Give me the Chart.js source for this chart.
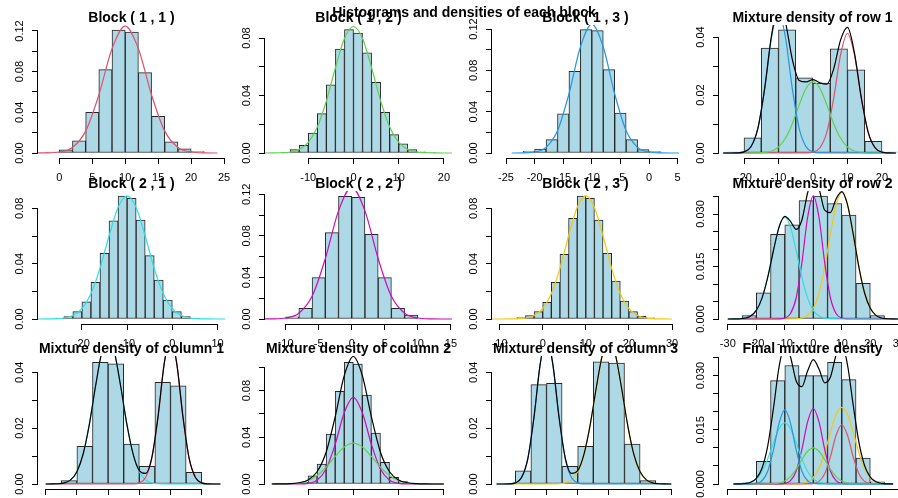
<!DOCTYPE html>
<html>
<head>
<meta charset="utf-8">
<script src="https://cdn.jsdelivr.net/npm/chart.js@4.4.1/dist/chart.umd.min.js"></script>
<style>
  html, body { margin: 0; padding: 0; background: #fff; }
  #stage { position: relative; width: 898px; height: 498px; overflow: hidden; background: #fff; }
  #stage canvas { position: absolute; }
  .ttl { position: absolute; font: bold 14px "Liberation Sans", Arial, sans-serif; color: #000;
         white-space: nowrap; transform: translate(-50%, -50%); line-height: 14px; }
</style>
</head>
<body>
<div id="stage"></div>
<script>
// colours of the R palette
const RED = '#DF536B', GREEN = '#61D04F', BLUE = '#2297E6', CYAN = '#28E2E5',
      MAGENTA = '#CD0BBC', GOLD = '#F5C710', BLACK = '#000000';

// ---- histogram bins (mid points) and densities ----
const h11x = [-1, 1, 3, 5, 7, 9, 11, 13, 15, 17, 19, 21];
const h11y = [0.001, 0.003, 0.012, 0.040, 0.082, 0.121, 0.119, 0.079, 0.036, 0.011, 0.004, 0.0013];
const h12x = [-15, -13, -11, -9, -7, -5, -3, -1, 1, 3, 5, 7, 9, 11, 13, 15, 17];
const h12y = [0.0005, 0.0023, 0.0053, 0.0139, 0.0274, 0.0475, 0.0723, 0.0858, 0.0835, 0.0696, 0.0492, 0.0283, 0.0128, 0.0063, 0.0023, 0.0009, 0.0005];
const h13x = [-21, -19, -17, -15, -13, -11, -9, -7, -5, -3, -1, 1];
const h13y = [0.0016, 0.0039, 0.0129, 0.0378, 0.079, 0.1194, 0.1184, 0.0807, 0.0387, 0.0129, 0.0032, 0.0013];
const h14x = [-22.5, -17.5, -12.5, -7.5, -2.5, 2.5, 7.5, 12.5, 17.5, 22.5];
const h14y = [0.0003, 0.0052, 0.0362, 0.0425, 0.0259, 0.0241, 0.0359, 0.0287, 0.0040, 0.0003];
const h21x = [-25, -23, -21, -19, -17, -15, -13, -11, -9, -7, -5, -3, -1, 1, 3, 5];
const h21y = [0.0005, 0.0017, 0.0053, 0.0125, 0.0265, 0.0475, 0.0709, 0.0889, 0.0873, 0.0716, 0.0458, 0.0282, 0.0137, 0.0053, 0.0017, 0.0005];
const h22x = [-9, -7, -5, -3, -1, 1, 3, 5, 7, 9];
const h22y = [0.0022, 0.0103, 0.0398, 0.0831, 0.118, 0.117, 0.0815, 0.0398, 0.0103, 0.0038];
const h23x = [-5, -3, -1, 1, 3, 5, 7, 9, 11, 13, 15, 17, 19, 21, 23, 25];
const h23y = [0.001, 0.0024, 0.0053, 0.012, 0.0265, 0.0468, 0.0728, 0.0889, 0.0873, 0.0716, 0.0475, 0.0275, 0.013, 0.0053, 0.002, 0.0008];
const h24x = [-22.5, -17.5, -12.5, -7.5, -2.5, 2.5, 7.5, 12.5, 17.5, 22.5];
const h24y = [0.001, 0.0075, 0.0242, 0.0269, 0.0338, 0.0351, 0.0330, 0.0297, 0.0102, 0.001];
const h31x = [-22.5, -17.5, -12.5, -7.5, -2.5, 2.5, 7.5, 12.5, 17.5];
const h31y = [0.0012, 0.0135, 0.0436, 0.0430, 0.0143, 0.0063, 0.0364, 0.0352, 0.0042];
const h32x = [-11, -9, -7, -5, -3, -1, 1, 3, 5, 7, 9, 11];
const h32y = [0.0014, 0.0071, 0.0171, 0.0428, 0.0794, 0.1043, 0.1028, 0.0763, 0.0437, 0.0186, 0.0057, 0.002];
const h33x = [-17.5, -12.5, -7.5, -2.5, 2.5, 7.5, 12.5, 17.5, 22.5];
const h33y = [0.0047, 0.0356, 0.0361, 0.0063, 0.0135, 0.0438, 0.0433, 0.0143, 0.0012];
const h34x = [-22.5, -17.5, -12.5, -7.5, -2.5, 2.5, 7.5, 12.5, 17.5, 22.5];
const h34y = [0.0003, 0.0063, 0.0286, 0.0328, 0.0300, 0.0300, 0.0337, 0.0289, 0.0072, 0.0006];

// ---- density curves, read at the x positions of each panel ----
const d11x = [-4, -2, 0, 2, 4, 6, 8, 10, 12, 14, 16, 18, 20, 22, 24];
const d11 = [0.00001, 0.00011, 0.00095, 0.00547, 0.0215, 0.0571, 0.1026, 0.1247, 0.1026, 0.0571, 0.0215, 0.00547, 0.00095, 0.00011, 0.00001];

const d12x = [-20, -18, -16, -14, -12, -10, -8, -6, -4, -2, 0, 2, 4, 6, 8, 10, 12, 14, 16, 18, 20, 22];
const d12 = [0.000004, 0.00003, 0.00016, 0.0007, 0.00252, 0.00745, 0.0181, 0.0362, 0.0593, 0.0797, 0.088, 0.0797, 0.0593, 0.0362, 0.0181, 0.00745, 0.00252, 0.0007, 0.00016, 0.00003, 0.000004, 0];

const d13x = [-24, -22, -20, -18, -16, -14, -12, -10, -8, -6, -4, -2, 0, 2, 4, 6];
const d13 = [0.00001, 0.00011, 0.00095, 0.00547, 0.0215, 0.0571, 0.1026, 0.1247, 0.1026, 0.0571, 0.0215, 0.00547, 0.00095, 0.00011, 0.00001, 0];

const d14x = [-26, -24, -22, -20, -18, -16, -14, -12, -10, -8, -6, -4, -2, 0, 2, 4, 6, 8, 10, 12, 14, 16, 18, 20, 22, 24];
const d14blue = [0, 0.000003, 0.00004, 0.00037, 0.00213, 0.00838, 0.0222, 0.0400, 0.0486, 0.0400, 0.0222, 0.00838, 0.00213, 0.00037, 0.00004, 0.000003, 0, 0, 0, 0, 0, 0, 0, 0, 0, 0];
const d14green = [0, 0, 0, 0.0000012, 0.0000084, 0.000044, 0.000194, 0.000704, 0.00208, 0.00507, 0.0101, 0.0166, 0.0223, 0.0246, 0.0223, 0.0166, 0.0101, 0.00507, 0.00208, 0.000704, 0.000194, 0.000044, 0.0000084, 0.0000012, 0, 0];
const d14red = [0, 0, 0, 0, 0, 0, 0, 0, 0, 0, 0, 0.0000029, 0.0000363, 0.000312, 0.00181, 0.0071, 0.0189, 0.0339, 0.0412, 0.0339, 0.0189, 0.0071, 0.00181, 0.000312, 0.0000363, 0.0000029];
const d14mix = [0, 0.000003, 0.00004, 0.00037, 0.00214, 0.00842, 0.0224, 0.0407, 0.0507, 0.0451, 0.0323, 0.0250, 0.0245, 0.0253, 0.0242, 0.0237, 0.0290, 0.0390, 0.0433, 0.0346, 0.0191, 0.00714, 0.0018, 0.00031, 0.00004, 0.000003];

const d21x = [-30, -28, -26, -24, -22, -20, -18, -16, -14, -12, -10, -8, -6, -4, -2, 0, 2, 4, 6, 8, 10, 12];
const d21 = [0.000004, 0.00003, 0.00016, 0.0007, 0.00255, 0.00754, 0.0183, 0.0366, 0.06, 0.0806, 0.089, 0.0806, 0.06, 0.0366, 0.0183, 0.00754, 0.00255, 0.0007, 0.00016, 0.00003, 0.000004, 0];

const d22x = [-14, -12, -10, -8, -6, -4, -2, 0, 2, 4, 6, 8, 10, 12, 14, 16];
const d22 = [0.00001, 0.00011, 0.00096, 0.00556, 0.0218, 0.058, 0.1041, 0.1266, 0.1041, 0.058, 0.0218, 0.00556, 0.00096, 0.00011, 0.00001, 0];

const d23x = [-12, -10, -8, -6, -4, -2, 0, 2, 4, 6, 8, 10, 12, 14, 16, 18, 20, 22, 24, 26, 28, 30];
const d23 = [0, 0.000004, 0.00003, 0.00016, 0.0007, 0.00255, 0.00754, 0.0183, 0.0366, 0.06, 0.0806, 0.089, 0.0806, 0.06, 0.0366, 0.0183, 0.00754, 0.00255, 0.0007, 0.00016, 0.00003, 0.000004];

const d24x = [-30, -28, -26, -24, -22, -20, -18, -16, -14, -12, -10, -8, -6, -4, -2, 0, 2, 4, 6, 8, 10, 12, 14, 16, 18, 20, 22, 24, 26, 28, 30];
const d24cyan = [0.0000015, 0.00001, 0.000052, 0.00023, 0.00083, 0.00246, 0.00597, 0.0119, 0.0195, 0.0263, 0.029, 0.0263, 0.0195, 0.0119, 0.00597, 0.00246, 0.00083, 0.00023, 0.000052, 0.00001, 0.0000015, 0, 0, 0, 0, 0, 0, 0, 0, 0, 0];
const d24magenta = [0, 0, 0, 0, 0, 0, 0, 0, 0.0000025, 0.000031, 0.000267, 0.00155, 0.00607, 0.0161, 0.029, 0.0352, 0.029, 0.0161, 0.00607, 0.00155, 0.000267, 0.000031, 0.0000025, 0, 0, 0, 0, 0, 0, 0, 0];
const d24gold = [0, 0, 0, 0, 0, 0, 0, 0, 0, 0, 0.0000018, 0.000012, 0.000065, 0.00029, 0.00103, 0.00306, 0.00743, 0.0148, 0.0243, 0.0327, 0.0361, 0.0327, 0.0243, 0.0148, 0.00743, 0.00306, 0.00103, 0.00029, 0.000065, 0.000012, 0.0000018];
const d24mix = [0.0000015, 0.00001, 0.00005, 0.00023, 0.00083, 0.00246, 0.00597, 0.0119, 0.0195, 0.0263, 0.0293, 0.0279, 0.0256, 0.0283, 0.036, 0.0407, 0.0373, 0.0311, 0.0304, 0.0343, 0.0364, 0.0327, 0.0243, 0.0148, 0.00743, 0.00306, 0.00103, 0.00029, 0.000065, 0.000012, 0.0000018];

const d31x = [-30, -28, -26, -24, -22, -20, -18, -16, -14, -12, -10, -8, -6, -4, -2, 0, 2, 4, 6, 8, 10, 12, 14, 16, 18, 20, 22, 24, 26];
const d31cyan = [0.0000026, 0.000018, 0.000094, 0.00041, 0.00149, 0.00442, 0.01075, 0.02146, 0.0352, 0.0473, 0.0522, 0.0473, 0.0352, 0.02146, 0.01075, 0.00442, 0.00149, 0.00041, 0.000094, 0.000018, 0.0000026, 0, 0, 0, 0, 0, 0, 0, 0];
const d31red = [0, 0, 0, 0, 0, 0, 0, 0, 0, 0, 0, 0, 0, 0.0000037, 0.000046, 0.000398, 0.0023, 0.00905, 0.024, 0.0432, 0.0525, 0.0432, 0.024, 0.00905, 0.0023, 0.000398, 0.000046, 0.0000037, 0];
const d31mix = [0.0000026, 0.000018, 0.000094, 0.00041, 0.00149, 0.00442, 0.01075, 0.02146, 0.0352, 0.0473, 0.0522, 0.0473, 0.0352, 0.0215, 0.0108, 0.00482, 0.00379, 0.00946, 0.0241, 0.0432, 0.0525, 0.0432, 0.024, 0.00905, 0.0023, 0.000398, 0.000046, 0.0000037, 0];

const d32x = [-18, -16, -14, -12, -10, -8, -6, -4, -2, 0, 2, 4, 6, 8, 10, 12, 14, 16, 18, 20];
const d32green = [0.000012, 0.000063, 0.000277, 0.001, 0.00296, 0.00721, 0.0144, 0.0236, 0.0317, 0.035, 0.0317, 0.0236, 0.0144, 0.00721, 0.00296, 0.001, 0.000277, 0.000063, 0.000012, 0.0000017];
const d32magenta = [0, 0, 0.000005, 0.000065, 0.000563, 0.00326, 0.0128, 0.034, 0.0611, 0.0743, 0.0611, 0.034, 0.0128, 0.00326, 0.000563, 0.000065, 0.000005, 0, 0, 0];
const d32mix = [0.000012, 0.000063, 0.00028, 0.00107, 0.00352, 0.0105, 0.0272, 0.0576, 0.0928, 0.1093, 0.0928, 0.0576, 0.0272, 0.0105, 0.00352, 0.00107, 0.00028, 0.000063, 0.000012, 0.0000017];

const d33x = [-26, -24, -22, -20, -18, -16, -14, -12, -10, -8, -6, -4, -2, 0, 2, 4, 6, 8, 10, 12, 14, 16, 18, 20, 22, 24, 26, 28, 30];
const d33blue = [0, 0.0000037, 0.000046, 0.000397, 0.0023, 0.00903, 0.024, 0.0431, 0.0524, 0.0431, 0.024, 0.00903, 0.0023, 0.000397, 0.000046, 0.0000037, 0, 0, 0, 0, 0, 0, 0, 0, 0, 0, 0, 0, 0];
const d33gold = [0, 0, 0, 0, 0, 0, 0, 0, 0.0000026, 0.000018, 0.000093, 0.00041, 0.00148, 0.00437, 0.0106, 0.0212, 0.0348, 0.0467, 0.0516, 0.0467, 0.0348, 0.0212, 0.0106, 0.00437, 0.00148, 0.00041, 0.000093, 0.000018, 0.0000026];
const d33mix = [0, 0.0000037, 0.000046, 0.000397, 0.0023, 0.00903, 0.024, 0.0431, 0.0524, 0.0431, 0.0241, 0.00944, 0.00378, 0.00477, 0.0106, 0.0212, 0.0348, 0.0467, 0.0516, 0.0467, 0.0348, 0.0212, 0.0106, 0.00437, 0.00148, 0.00041, 0.000093, 0.000018, 0.0000026];

const d34x = [-28, -26, -24, -22, -20, -18, -16, -14, -12, -10, -8, -6, -4, -2, 0, 2, 4, 6, 8, 10, 12, 14, 16, 18, 20, 22, 24, 26, 28];
const d34blue = [0, 0, 0.0000014, 0.000018, 0.000155, 0.0009, 0.00353, 0.00939, 0.01686, 0.0205, 0.01686, 0.00939, 0.00353, 0.0009, 0.000155, 0.000018, 0.0000014, 0, 0, 0, 0, 0, 0, 0, 0, 0, 0, 0, 0];
const d34cyan = [0.0000057, 0.00003, 0.000134, 0.000483, 0.00143, 0.00348, 0.00695, 0.01138, 0.01531, 0.0169, 0.01531, 0.01138, 0.00695, 0.00348, 0.00143, 0.000483, 0.000134, 0.00003, 0.0000057, 0, 0, 0, 0, 0, 0, 0, 0, 0, 0];
const d34green = [0, 0, 0, 0, 0, 0.0000034, 0.000018, 0.000079, 0.000286, 0.000847, 0.00206, 0.00411, 0.00674, 0.00906, 0.01, 0.00906, 0.00674, 0.00411, 0.00206, 0.000847, 0.000286, 0.000079, 0.000018, 0.0000034, 0, 0, 0, 0, 0];
const d34magenta = [0, 0, 0, 0, 0, 0, 0, 0.0000015, 0.000018, 0.000158, 0.00092, 0.0036, 0.00957, 0.01719, 0.0209, 0.01719, 0.00957, 0.0036, 0.00092, 0.000158, 0.000018, 0.0000015, 0, 0, 0, 0, 0, 0, 0];
const d34red = [0, 0, 0, 0, 0, 0, 0, 0, 0, 0, 0, 0, 0.0000011, 0.000014, 0.000124, 0.00072, 0.00283, 0.00751, 0.01349, 0.0164, 0.01349, 0.00751, 0.00283, 0.00072, 0.000124, 0.000014, 0.0000011, 0, 0];
const d34gold = [0, 0, 0, 0, 0, 0, 0, 0, 0, 0, 0.0000072, 0.000038, 0.000167, 0.000606, 0.0018, 0.00437, 0.00872, 0.01428, 0.01921, 0.0212, 0.01921, 0.01428, 0.00872, 0.00437, 0.0018, 0.000606, 0.000167, 0.000038, 0.0000072];
const d34mix = [0.0000057, 0.00003, 0.000135, 0.0005, 0.00159, 0.00438, 0.0105, 0.02085, 0.03248, 0.0384, 0.03516, 0.02852, 0.02696, 0.03125, 0.03441, 0.03184, 0.0280, 0.02953, 0.03569, 0.0386, 0.0330, 0.02187, 0.01157, 0.00509, 0.00192, 0.00062, 0.00017, 0.000038, 0.0000072];

// ---- axis ticks ----
const yt12 = [0, 0.02, 0.04, 0.06, 0.08, 0.10, 0.12];
const yl12 = ['0.00', '', '0.04', '', '0.08', '', '0.12'];
const yt08 = [0, 0.02, 0.04, 0.06, 0.08];
const yl08 = ['0.00', '', '0.04', '', '0.08'];
const yt10 = [0, 0.02, 0.04, 0.06, 0.08, 0.10];
const yl10 = ['0.00', '', '0.04', '', '0.08', ''];
const yt04 = [0, 0.01, 0.02, 0.03, 0.04];
const yl04 = ['0.00', '', '0.02', '', '0.04'];
const yt035 = [0, 0.005, 0.01, 0.015, 0.02, 0.025, 0.03, 0.035];
const yl035 = ['0.000', '', '', '0.015', '', '', '0.030', ''];

const xt11 = [0, 5, 10, 15, 20, 25];
const xt12 = [-10, 0, 10, 20];
const xt13 = [-25, -20, -15, -10, -5, 0, 5];
const xt14 = [-20, -10, 0, 10, 20];
const xt21 = [-20, -10, 0, 10];
const xt22 = [-10, -5, 0, 5, 10, 15];
const xt23 = [-10, 0, 10, 20, 30];
const xtWide = [-30, -20, -10, 0, 10, 20, 30];
const xt31 = [-30, -20, -10, 0, 10, 20];
const xt33 = [-20, -10, 0, 10, 20, 30];

const mainTitle = 'Histograms and densities of each block';

// panel table: r,c grid slot; xr visible x range; ys pixels per density unit
const panels = [
  { r: 0, c: 0, title: 'Block ( 1 , 1 )', hx: h11x, hy: h11y, lx: d11x, lines: [[d11, RED]], xr: [-3.23, 25.14], xt: xt11, ys: 1016.7, yt: yt12, yl: yl12 },
  { r: 0, c: 1, title: 'Block ( 1 , 2 )', hx: h12x, hy: h12y, lx: d12x, lines: [[d12, GREEN]], xr: [-19.57, 21.78], xt: xt12, ys: 1437.5, yt: yt08, yl: yl08 },
  { r: 0, c: 2, title: 'Block ( 1 , 3 )', hx: h13x, hy: h13y, lx: d13x, lines: [[d13, BLUE]], xr: [-27.45, 5.24], xt: xt13, ys: 1033, yt: yt12, yl: yl12 },
  { r: 0, c: 3, title: 'Mixture density of row 1', hx: h14x, hy: h14y, lx: d14x,
    lines: [[d14blue, BLUE], [d14green, GREEN], [d14red, RED], [d14mix, BLACK]], xr: [-27.25, 26.96], xt: xt14, ys: 2900, yt: yt04, yl: yl04 },
  { r: 1, c: 0, title: 'Block ( 2 , 1 )', hx: h21x, hy: h21y, lx: d21x, lines: [[d21, CYAN]], xr: [-29.71, 11.66], xt: xt21, ys: 1383, yt: yt08, yl: yl08 },
  { r: 1, c: 1, title: 'Block ( 2 , 2 )', hx: h22x, hy: h22y, lx: d22x, lines: [[d22, MAGENTA]], xr: [-13.12, 15.17], xt: xt22, ys: 1039, yt: yt12, yl: yl12 },
  { r: 1, c: 2, title: 'Block ( 2 , 3 )', hx: h23x, hy: h23y, lx: d23x, lines: [[d23, GOLD]], xr: [-11.76, 31.62], xt: xt23, ys: 1383, yt: yt08, yl: yl08 },
  { r: 1, c: 3, title: 'Mixture density of row 2', hx: h24x, hy: h24y, lx: d24x,
    lines: [[d24cyan, CYAN], [d24magenta, MAGENTA], [d24gold, GOLD], [d24mix, BLACK]], xr: [-33.09, 32.53], xt: xtWide, ys: 3500, yt: yt035, yl: yl035 },
  { r: 2, c: 0, title: 'Mixture density of column 1', hx: h31x, hy: h31y, lx: d31x,
    lines: [[d31red, RED], [d31cyan, CYAN], [d31mix, BLACK]], xr: [-32.47, 27.47], xt: xt31, ys: 2792, yt: yt04, yl: yl04 },
  { r: 2, c: 1, title: 'Mixture density of column 2', hx: h32x, hy: h32y, lx: d32x,
    lines: [[d32green, GREEN], [d32magenta, MAGENTA], [d32mix, BLACK]], xr: [-19.5, 21.8], xt: xt12, ys: 1167, yt: yt10, yl: yl10 },
  { r: 2, c: 2, title: 'Mixture density of column 3', hx: h33x, hy: h33y, lx: d33x,
    lines: [[d33blue, BLUE], [d33gold, GOLD], [d33mix, BLACK]], xr: [-27.47, 32.47], xt: xt33, ys: 2792, yt: yt04, yl: yl04 },
  { r: 2, c: 3, title: 'Final mixture density', hx: h34x, hy: h34y, lx: d34x,
    lines: [[d34blue, BLUE], [d34cyan, CYAN], [d34green, GREEN], [d34magenta, MAGENTA], [d34red, RED], [d34gold, GOLD], [d34mix, BLACK]],
    xr: [-33.09, 32.53], xt: xtWide, ys: 3613, yt: yt035, yl: yl035 }
];

Chart.defaults.font.family = '"Liberation Sans", Arial, sans-serif';
Chart.defaults.font.size = 11;
Chart.defaults.color = '#000';

const stage = document.getElementById('stage');
const COLW = 227, ROWH = 165.5, OX = 12;

// R style axes: line from first to last tick, rotated y labels
function rAxes(p) {
  return {
    id: 'rAxes',
    afterDraw(chart) {
      const { ctx, chartArea, scales } = chart;
      const x = scales.x, y = scales.y;
      ctx.save();
      ctx.strokeStyle = '#000';
      ctx.lineWidth = 1;
      ctx.beginPath();
      const xb = Math.round(chartArea.bottom) + 0.5;
      ctx.moveTo(x.getPixelForValue(p.xt[0]), xb);
      ctx.lineTo(x.getPixelForValue(p.xt[p.xt.length - 1]), xb);
      const yl = Math.round(chartArea.left) - 0.5;
      ctx.moveTo(yl, y.getPixelForValue(p.yt[0]));
      ctx.lineTo(yl, y.getPixelForValue(p.yt[p.yt.length - 1]));
      ctx.stroke();
      ctx.fillStyle = '#000';
      ctx.font = '11px "Liberation Sans", Arial, sans-serif';
      ctx.textAlign = 'center';
      ctx.textBaseline = 'middle';
      p.yt.forEach((v, i) => {
        if (!p.yl[i]) return;
        ctx.save();
        ctx.translate(chartArea.left - 18, y.getPixelForValue(v));
        ctx.rotate(-Math.PI / 2);
        ctx.fillText(p.yl[i], 0, 0);
        ctx.restore();
      });
      ctx.restore();
    }
  };
}

function makePanel(p) {
  const cv = document.createElement('canvas');
  cv.width = COLW + 2 * OX;
  cv.height = 200;
  cv.style.left = (p.c * COLW - OX) + 'px';
  cv.style.top = Math.round(p.r * ROWH) + 'px';
  stage.appendChild(cv);

  const datasets = p.lines.map(([vals, col]) => ({
    type: 'line',
    data: p.lx.map((x, i) => ({ x: x, y: vals[i] })),
    borderColor: col,
    borderWidth: 1.2,
    pointRadius: 0,
    fill: false,
    cubicInterpolationMode: 'monotone',
    order: col === BLACK ? 0 : 1
  }));
  datasets.push({
    type: 'bar',
    data: p.hx.map((x, i) => ({ x: x, y: p.hy[i] })),
    backgroundColor: '#ADD8E6',
    borderColor: '#262626',
    borderWidth: 1,
    borderSkipped: false,
    barPercentage: 1,
    categoryPercentage: 1,
    order: 2
  });

  new Chart(cv, {
    type: 'bar',
    data: { datasets: datasets },
    options: {
      responsive: false,
      animation: false,
      devicePixelRatio: 1,
      layout: { padding: { top: 25, left: OX, right: 2 + OX, bottom: 0 } },
      plugins: { legend: { display: false }, tooltip: { enabled: false } },
      scales: {
        x: {
          type: 'linear',
          min: p.xr[0],
          max: p.xr[1],
          offset: false,
          border: { display: false },
          grid: { offset: false, drawOnChartArea: false, drawTicks: true, tickLength: 6, color: '#000' },
          ticks: { autoSkip: false, maxRotation: 0, padding: 7, callback: v => String(v) },
          afterBuildTicks: s => { s.ticks = p.xt.map(v => ({ value: v })); },
          afterFit: s => { s.height = 42; s.paddingLeft = 0; s.paddingRight = 0; }
        },
        y: {
          type: 'linear',
          min: -5 / p.ys,
          max: 128 / p.ys,
          border: { display: false },
          grid: { drawOnChartArea: false, drawTicks: true, tickLength: 6, color: '#000' },
          ticks: { display: false },
          afterBuildTicks: s => { s.ticks = p.yt.map(v => ({ value: v })); },
          afterFit: s => { s.width = 38; s.paddingTop = 0; s.paddingBottom = 0; }
        }
      }
    },
    plugins: [rAxes(p)]
  });
}

panels.forEach(makePanel);

// titles as text over the canvases
panels.forEach(p => {
  const t = document.createElement('div');
  t.className = 'ttl';
  t.textContent = p.title;
  t.style.left = (p.c * COLW + 131.5) + 'px';
  t.style.top = (Math.round(p.r * ROWH) + 17) + 'px';
  stage.appendChild(t);
});
const mt = document.createElement('div');
mt.className = 'ttl';
mt.textContent = mainTitle;
mt.style.left = '464px';
mt.style.top = '12px';
stage.appendChild(mt);
</script>
</body>
</html>
